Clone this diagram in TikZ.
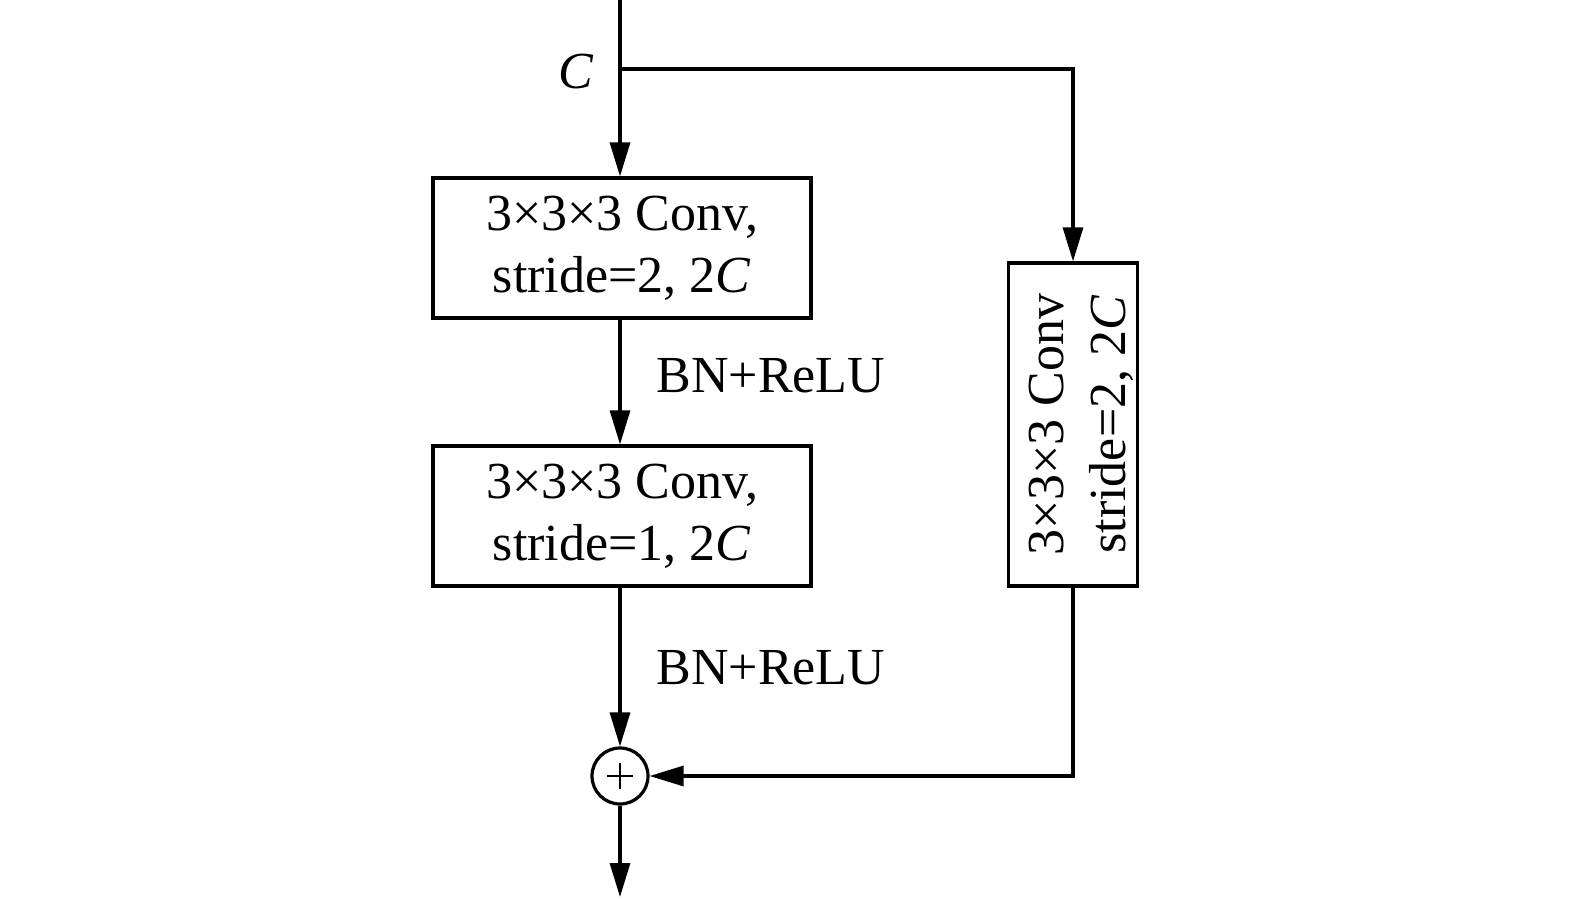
\documentclass[tikz,border=0pt]{standalone}
\usepackage{fontspec}
\setmainfont{Liberation Serif}
\usetikzlibrary{arrows.meta}
\begin{document}
\begin{tikzpicture}[x=0.5pt,y=-0.5pt, line width=1.6pt,
  arr/.style={-{Triangle[length=17pt,width=10pt]}},
  box/.style={draw, inner sep=0pt, font=\fontsize{26}{31}\selectfont, align=center},
  lab/.style={font=\fontsize{26}{31}\selectfont, inner sep=0pt}]
\useasboundingbox (0,0) rectangle (1575,899);
\node[box, minimum width=189pt, minimum height=70pt] (b1) at (622,248) {3×3×3 Conv,\\stride=2, 2\textit{C}};
\node[box, minimum width=189pt, minimum height=70pt] (b2) at (622,516) {3×3×3 Conv,\\stride=1, 2\textit{C}};
\node[box, minimum width=64.5pt, minimum height=161.5pt] (b3) at (1073,424.5) {};
\node[lab, rotate=90, align=center] (t3) at ([xshift=4pt]b3.center) {3×3×3 Conv\\stride=2, 2\textit{C}};
\node[draw, circle, minimum size=28pt, inner sep=0pt] (sum) at (620,776) {};
\draw[line width=0.7pt] ([xshift=-6.5pt]sum.center) -- ([xshift=6.5pt]sum.center)
  ([yshift=-6.5pt]sum.center) -- ([yshift=6.5pt]sum.center);
\coordinate (top) at (620,0);
\coordinate (split) at (620,69);
\coordinate (out) at (620,897);
\node[lab, font=\fontsize{26}{31}\selectfont\itshape] (c) at (576,72) {C};
\node[lab, anchor=west] (bn1) at (655,376) {BN+ReLU};
\node[lab, anchor=west] (bn2) at (655,668) {BN+ReLU};
\draw[arr] (top) -- (b1.north -| top);
\draw[arr] (split) -| (b3.north);
\draw[arr] (b1.south -| top) -- (b2.north -| top);
\draw[arr] (b2.south -| top) -- (sum);
\draw[arr] (b3.south) |- (sum.east);
\draw[arr] (sum) -- (out);
\end{tikzpicture}
\end{document}
